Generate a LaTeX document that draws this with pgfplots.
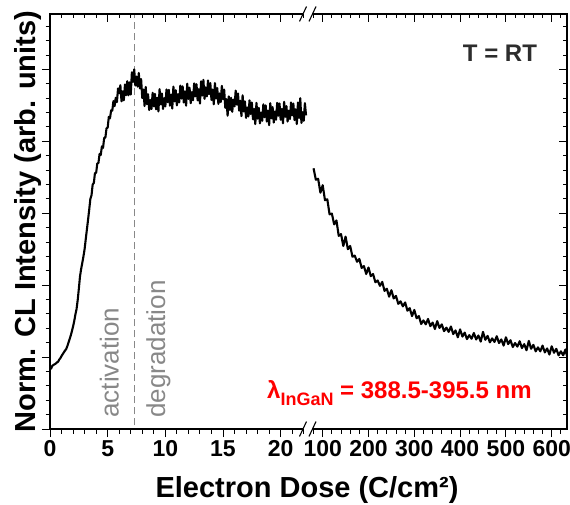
\documentclass[border=0pt]{standalone}
\usepackage{fontspec}
\setmainfont{Liberation Sans}
\usepackage{pgfplots}
\pgfplotsset{compat=1.18}
\usepackage{pgfplotstable}
\definecolor{annot}{RGB}{136,136,136}
\definecolor{dark}{RGB}{45,45,45}

\pgfplotstableread{
x y
0.0 0.172
0.1 0.168
0.2 0.176
0.3 0.178
0.4 0.180
0.5 0.182
0.6 0.185
0.7 0.187
0.8 0.193
0.9 0.197
1.0 0.203
1.1 0.208
1.2 0.213
1.3 0.218
1.4 0.222
1.5 0.230
1.6 0.240
1.7 0.250
1.8 0.260
1.9 0.272
2.0 0.285
2.1 0.300
2.2 0.318
2.3 0.333
2.4 0.358
2.5 0.390
2.6 0.424
2.7 0.445
2.8 0.462
2.9 0.480
3.0 0.500
3.1 0.528
3.2 0.555
3.3 0.582
3.4 0.610
3.5 0.640
3.6 0.650
3.7 0.680
3.8 0.684
3.9 0.712
4.0 0.712
4.1 0.738
4.2 0.740
4.3 0.765
4.4 0.762
4.5 0.786
4.6 0.782
4.7 0.810
4.8 0.810
4.9 0.836
5.0 0.838
5.1 0.868
5.2 0.864
5.3 0.886
5.4 0.885
5.5 0.912
5.6 0.898
5.7 0.921
5.8 0.909
5.9 0.947
6.0 0.934
6.1 0.956
6.2 0.911
6.3 0.939
6.4 0.914
6.5 0.958
6.6 0.928
6.7 0.967
6.8 0.928
6.9 0.964
7.0 0.930
7.1 0.992
7.2 0.965
7.3 1.000
7.4 0.955
7.5 0.980
7.6 0.952
7.7 0.990
7.8 0.947
7.9 0.973
8.0 0.920
8.1 0.944
8.2 0.898
8.3 0.951
8.4 0.903
8.5 0.931
8.6 0.887
8.7 0.915
8.8 0.890
8.9 0.935
9.0 0.897
9.1 0.932
9.2 0.889
9.3 0.921
9.4 0.883
9.5 0.945
9.6 0.903
9.7 0.933
9.8 0.890
9.9 0.920
10.0 0.897
10.1 0.944
10.2 0.909
10.3 0.943
10.4 0.899
10.5 0.930
10.6 0.891
10.7 0.952
10.8 0.911
10.9 0.942
11.0 0.900
11.1 0.931
11.2 0.908
11.3 0.955
11.4 0.919
11.5 0.953
11.6 0.908
11.7 0.939
11.8 0.899
11.9 0.960
12.0 0.918
12.1 0.949
12.2 0.906
12.3 0.937
12.4 0.914
12.5 0.961
12.6 0.925
12.7 0.959
12.8 0.914
12.9 0.945
13.0 0.905
13.1 0.967
13.2 0.927
13.3 0.971
13.4 0.918
13.5 0.950
13.6 0.925
13.7 0.969
13.8 0.931
13.9 0.962
14.0 0.915
14.1 0.944
14.2 0.903
14.3 0.962
14.4 0.919
14.5 0.948
14.6 0.904
14.7 0.933
14.8 0.909
14.9 0.954
15.0 0.917
15.1 0.944
15.2 0.893
15.3 0.917
15.4 0.871
15.5 0.925
15.6 0.887
15.7 0.921
15.8 0.882
15.9 0.916
16.0 0.897
16.1 0.941
16.2 0.902
16.3 0.933
16.4 0.885
16.5 0.913
16.6 0.870
16.7 0.928
16.8 0.883
16.9 0.911
17.0 0.865
17.1 0.894
17.2 0.869
17.3 0.914
17.4 0.876
17.5 0.908
17.6 0.861
17.7 0.890
17.8 0.848
17.9 0.907
18.0 0.863
18.1 0.893
18.2 0.850
18.3 0.880
18.4 0.857
18.5 0.903
18.6 0.867
18.7 0.900
18.8 0.855
18.9 0.885
19.0 0.845
19.1 0.906
19.2 0.864
19.3 0.895
19.4 0.852
19.5 0.883
19.6 0.860
19.7 0.907
19.8 0.871
19.9 0.905
20.0 0.860
20.1 0.890
20.2 0.850
20.3 0.910
20.4 0.868
20.5 0.898
20.6 0.855
20.7 0.885
20.8 0.862
20.9 0.908
21.0 0.872
21.1 0.905
21.2 0.859
21.3 0.889
21.4 0.848
21.5 0.908
21.6 0.865
21.7 0.920
21.8 0.851
21.9 0.881
22.0 0.857
22.1 0.906
22.2 0.872
}\leftdata

\pgfplotstableread{
x y
80 0.725
85 0.693
90 0.696
95 0.657
100 0.678
105 0.636
110 0.639
115 0.597
120 0.599
125 0.569
130 0.580
135 0.537
140 0.542
145 0.509
150 0.535
155 0.500
160 0.509
165 0.479
170 0.482
175 0.465
180 0.473
185 0.448
190 0.453
195 0.431
200 0.449
205 0.425
210 0.431
215 0.408
220 0.413
225 0.398
230 0.409
235 0.384
240 0.390
245 0.368
250 0.386
255 0.363
260 0.370
265 0.348
270 0.355
275 0.341
280 0.352
285 0.329
290 0.336
295 0.314
300 0.331
305 0.308
310 0.314
315 0.292
320 0.302
325 0.291
330 0.306
335 0.286
340 0.296
345 0.278
350 0.300
355 0.281
360 0.291
365 0.272
370 0.282
375 0.270
380 0.285
385 0.264
390 0.274
395 0.255
400 0.277
405 0.257
410 0.268
415 0.250
420 0.261
425 0.251
430 0.267
435 0.249
440 0.260
445 0.243
450 0.270
455 0.248
460 0.259
465 0.241
470 0.252
475 0.242
480 0.258
485 0.239
490 0.249
495 0.232
500 0.255
505 0.236
510 0.247
515 0.228
520 0.239
525 0.229
530 0.244
535 0.225
540 0.236
545 0.219
550 0.245
555 0.223
560 0.234
565 0.216
570 0.227
575 0.216
580 0.232
585 0.213
590 0.224
595 0.207
600 0.230
605 0.212
610 0.223
615 0.205
620 0.216
625 0.205
630 0.221
633 0.205
}\rightdata

\pgfplotsset{
  base/.style={scale only axis, height=415pt, ymin=0, ymax=1.154,
    axis line style={draw=none},
    major tick length=8pt, minor tick length=4.5pt,
    every tick/.style={black, line width=0.9pt},
    tick label style={font=\fontsize{23}{23}\selectfont\bfseries},
    /pgf/number format/assume math mode=true,
  },
  leftpart/.style={base, at={(50pt,75pt)}, anchor=south west, width=258pt,
    xmin=0, xmax=22.37,
    xtick={0,5,10,15,20}, minor xtick={1,2,...,22}},
  rightpart/.style={base, at={(308pt,75pt)}, anchor=south west, width=259pt,
    xmin=67.9, xmax=633.4,
    xtick={100,200,...,600}, minor xtick={80,100,...,620}},
}

\begin{document}
\begin{tikzpicture}[x=1pt,y=1pt]
\useasboundingbox (0,0) rectangle (570,504);

% left part: data, bottom/left ticks outward
\begin{axis}[leftpart, tick align=outside, xtick pos=left, ytick pos=left,
  ytick={0,0.2,0.4,0.6,0.8,1.0}, minor ytick={0.04,0.08,...,1.13}, yticklabels={}]
\addplot[annot, line width=1.1pt, dash pattern=on 7pt off 4pt] coordinates {(7.34,0.01) (7.34,1.154)};
\addplot[black, line width=2.1pt, line join=round] table[x=x,y=y] {\leftdata};
\node[rotate=90, anchor=west, inner sep=0pt, text=annot, font=\fontsize{26}{26}\selectfont] at (axis cs:5.15,0.031) {activation};
\node[rotate=90, anchor=west, inner sep=0pt, text=annot, font=\fontsize{26}{26}\selectfont] at (axis cs:9.4,0.031) {degradation};
\end{axis}
% left part: top ticks inward
\begin{axis}[leftpart, tick align=inside, xtick pos=right, ytick=\empty, xticklabels={}]
\end{axis}

% right part: data, bottom ticks outward
\begin{axis}[rightpart, tick align=outside, xtick pos=left, ytick=\empty]
\addplot[black, line width=2.1pt, line join=round] table[x=x,y=y] {\rightdata};
\node[anchor=base, text=dark, font=\fontsize{24}{24}\selectfont\bfseries] at (axis cs:487,1.021) {T = RT};
\end{axis}
% right part: top and right ticks inward
\begin{axis}[rightpart, tick align=inside, xtick pos=right, ytick pos=right,
  ytick={0,0.2,0.4,0.6,0.8,1.0}, minor ytick={0.04,0.08,...,1.13},
  xticklabels={}, yticklabels={}]
\end{axis}

% frame with axis break
\draw[line width=1.2pt] (303,490) -- (50,490) -- (50,75) -- (303,75);
\draw[line width=1.2pt] (312.5,490) -- (567,490) -- (567,75) -- (312.5,75);
\draw[line width=1.1pt] (299.5,67.5) -- (306.5,82.5);
\draw[line width=1.1pt] (309,67.5) -- (316,82.5);
\draw[line width=1.1pt] (299.5,482.5) -- (306.5,497.5);
\draw[line width=1.1pt] (309,482.5) -- (316,497.5);

% labels
\node[rotate=90, font=\fontsize{29}{29}\selectfont\bfseries] at (28.5,282.5) {Norm. CL Intensity (arb. units)};
\node[anchor=base, font=\fontsize{29}{29}\selectfont\bfseries] at (307,7) {Electron Dose (C/cm²)};
\node[anchor=base west, inner sep=0pt, text=red, font=\fontsize{24}{24}\selectfont\bfseries] at (267,106)
  {λ\raisebox{-7pt}{\fontsize{18}{18}\selectfont InGaN} = 388.5-395.5 nm};
\end{tikzpicture}
\end{document}
